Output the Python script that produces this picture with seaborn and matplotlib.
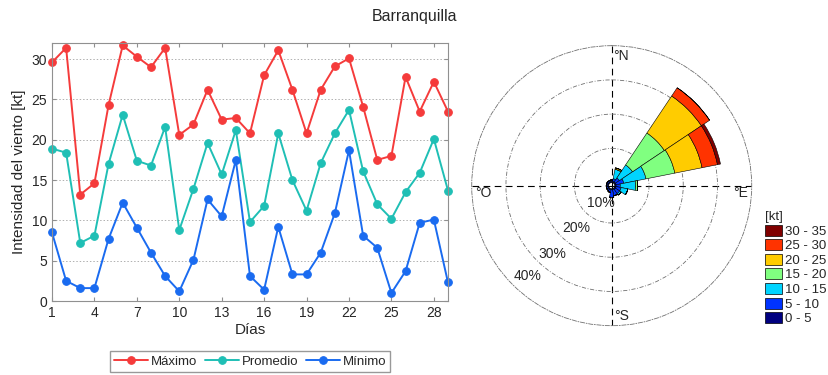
import numpy as np
import matplotlib
matplotlib.use("Agg")
import matplotlib.pyplot as plt
import matplotlib.patches as mpatches
import seaborn as sns

# daily wind speed, kt
dias = list(range(1, 30))
maximo = [29.6, 31.4, 13.2, 14.6, 24.3, 31.7, 30.3, 29.0, 31.4, 20.6,
          21.9, 26.2, 22.5, 22.7, 20.8, 28.0, 31.1, 26.2, 20.8, 26.2,
          29.1, 30.1, 24.1, 17.5, 18.0, 27.8, 23.5, 27.2, 23.5]
promedio = [18.9, 18.4, 7.2, 8.1, 17.0, 23.1, 17.4, 16.8, 21.6, 8.8,
            13.9, 19.6, 15.7, 21.2, 9.8, 11.8, 20.8, 15.0, 11.2, 17.1,
            20.8, 23.7, 16.1, 12.0, 10.2, 13.5, 15.9, 20.1, 13.7]
minimo = [8.5, 2.5, 1.6, 1.6, 7.7, 12.2, 9.1, 6.0, 3.1, 1.2,
          5.1, 12.6, 10.5, 17.5, 3.1, 1.4, 9.2, 3.3, 3.3, 6.0,
          10.9, 18.7, 8.1, 6.6, 1.0, 3.7, 9.7, 10.1, 2.3]

# wind rose: frequency (%) per direction and speed bin
direcciones = np.arange(16) * 22.5
rangos = ["0 - 5", "5 - 10", "10 - 15", "15 - 20", "20 - 25", "25 - 30", "30 - 35"]
frecuencias = np.array([
    [0.3, 0.5, 0.0, 0.0, 0.0, 0.0, 0.0],   # N
    [0.4, 0.8, 2.8, 0.0, 0.4, 0.0, 0.0],   # NNE
    [0.4, 1.4, 4.6, 11.2, 13.0, 2.9, 0.0], # NE
    [0.4, 2.3, 6.6, 8.6, 8.1, 4.6, 0.9],   # ENE
    [0.4, 1.2, 4.5, 0.6, 0.0, 0.0, 0.0],   # E
    [0.4, 1.5, 2.0, 0.0, 0.0, 0.0, 0.0],   # ESE
    [0.4, 1.5, 0.5, 0.0, 0.0, 0.0, 0.0],   # SE
    [0.3, 1.8, 0.0, 0.0, 0.0, 0.0, 0.0],   # SSE
    [0.3, 2.2, 0.0, 0.0, 0.0, 0.0, 0.0],   # S
    [0.3, 0.8, 0.0, 0.0, 0.0, 0.0, 0.0],   # SSW
    [0.3, 0.5, 0.0, 0.0, 0.0, 0.0, 0.0],   # SW
    [0.3, 0.4, 0.0, 0.0, 0.0, 0.0, 0.0],   # WSW
    [0.3, 0.4, 0.0, 0.0, 0.0, 0.0, 0.0],   # W
    [0.3, 0.4, 0.0, 0.0, 0.0, 0.0, 0.0],   # WNW
    [0.3, 0.4, 0.0, 0.0, 0.0, 0.0, 0.0],   # NW
    [0.3, 0.4, 0.0, 0.0, 0.0, 0.0, 0.0],   # NNW
])
colores_rosa = ["#000080", "#0033FF", "#00D4FF", "#80FF80", "#FFCC00", "#FF3300", "#800000"]

sns.set_style("ticks")
plt.rcParams["font.family"] = ["Liberation Sans", "DejaVu Sans"]

fig = plt.figure(figsize=(8.29, 3.75), dpi=100)
fig.suptitle("Barranquilla", x=0.5, y=0.975, fontsize=11.5)

# --- left: daily line chart ---
ax = fig.add_axes([0.0627, 0.1973, 0.4777, 0.688])
series = [("Máximo", maximo, "#F53B3B"),
          ("Promedio", promedio, "#1FBFB5"),
          ("Mínimo", minimo, "#1A6BF0")]
for nombre, valores, c in series:
    sns.lineplot(x=dias, y=valores, ax=ax, color=c, marker="o", markersize=5.5,
                 markeredgecolor=c, linewidth=1.4, label=nombre, clip_on=False)
ax.set_xlim(1, 29)
ax.set_ylim(0, 32)
ax.set_xticks(range(1, 29, 3))
ax.set_yticks(range(0, 31, 5))
ax.grid(axis="y", linestyle=(0, (1.5, 2)), color="#b0b0b0", linewidth=0.7)
ax.tick_params(direction="in", top=True, right=True, labelsize=10,
               color="#909090", length=3)
for s in ax.spines.values():
    s.set_color("#909090")
    s.set_linewidth(0.8)
ax.set_xlabel("Días", fontsize=11, labelpad=2)
ax.set_ylabel("Intensidad del viento [kt]", fontsize=11, labelpad=4)
ax.legend(loc="upper center", bbox_to_anchor=(0.5, -0.17), ncol=3, fontsize=9.5,
          frameon=True, fancybox=False, edgecolor="#808080", handlelength=2.6,
          handletextpad=0.2, columnspacing=0.6, borderpad=0.3)

# --- right: wind rose ---
r0 = 0.9
axp = fig.add_axes([0.569, 0.1315, 0.3378, 0.7467], projection="polar")
axp.set_theta_zero_location("N")
axp.set_theta_direction(-1)
theta = np.deg2rad(direcciones)
ancho = np.deg2rad(22.5)
base = np.full(len(direcciones), r0)
for i, rango in enumerate(rangos):
    h = frecuencias[:, i]
    axp.bar(theta, h, width=ancho, bottom=base, color=colores_rosa[i],
            edgecolor="black", linewidth=0.4, zorder=3)
    base = base + h
axp.set_ylim(0, r0 + 40)
axp.set_rgrids([r0 + 10, r0 + 20, r0 + 30], labels=["", "", ""])
axp.set_thetagrids([0, 90, 180, 270], labels=["", "", "", ""])
axp.yaxis.grid(True, linestyle=(0, (5, 2, 1, 2)), color="#707070", linewidth=0.6)
axp.xaxis.grid(True, linestyle=(0, (6, 4)), color="black", linewidth=0.8)
axp.spines["polar"].set_linestyle((0, (5, 2, 1, 2)))
axp.spines["polar"].set_color("#707070")
axp.spines["polar"].set_linewidth(0.6)
axp.set_axisbelow(True)

for p, ang, rr in [(10, 213, 6.0), (20, 220, 16.3), (30, 221, 26.4), (40, 222.7, 36.1)]:
    axp.text(np.deg2rad(ang), rr, f"{p}%", ha="center", va="center", fontsize=10)
for lab, ang, rr in [("°N", 0.6, 38.0), ("°E", 93.3, 35.6), ("°O", 267.0, 40.0), ("°S", 179.0, 38.2)]:
    axp.text(np.deg2rad(ang), rr, lab, ha="left", va="center", fontsize=10, clip_on=False)

parches = [mpatches.Patch(facecolor=colores_rosa[i], edgecolor="black", linewidth=0.5,
                          label=rangos[i]) for i in range(len(rangos) - 1, -1, -1)]
fig.legend(handles=parches, loc="upper left", bbox_to_anchor=(0.915, 0.455),
           title="[kt]", title_fontsize=9.5, fontsize=9.5, frameon=False,
           alignment="left", handlelength=1.3, handleheight=0.9,
           handletextpad=0.2, labelspacing=0.12, borderpad=0.0)

fig.savefig("out.png", dpi=100)
